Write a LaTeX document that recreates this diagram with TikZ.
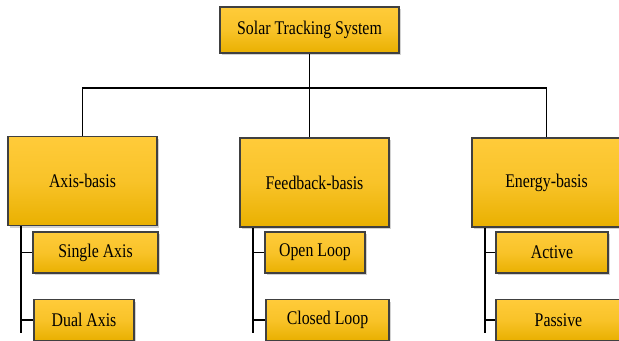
\documentclass[tikz,border=0pt]{standalone}
\usepackage{fontspec}
\setmainfont{Liberation Serif}[FakeStretch=0.82]
\usetikzlibrary{shadows}
\definecolor{goldtop}{HTML}{FFCB3A}
\definecolor{goldbot}{HTML}{E9B000}
\tikzset{
    box/.style = {draw = black!75, line width = 0.7pt, top color = goldtop,
        bottom color = goldbot, middle color = goldtop!70!goldbot,
        drop shadow = {opacity = 0.35, shadow xshift = 1.2pt, shadow yshift = -1.2pt},
        font = \fontsize{11}{13}\selectfont, inner sep = 0pt},
    topbox/.style = {box, minimum width = 3.58cm, minimum height = 0.92cm},
    basisbox/.style = {box, minimum width = 2.98cm, minimum height = 1.78cm},
    leafbox/.style = {box, minimum height = 0.82cm},
    link/.style = {draw, line width = 0.7pt}
}

\begin{document}
\begin{tikzpicture}
    \clip (0, 0) rectangle (12.38, -6.82);
    \fill[white] (0, 0) rectangle (12.38, -6.82);

    \node[topbox] (sts) at (6.19, -0.60) {Solar Tracking System};

    \node[basisbox] (axis) at (1.65, -3.62) {Axis-basis};
    \node[basisbox] (feedback) at (6.29, -3.65) {Feedback-basis};
    \node[basisbox] (energy) at (10.93, -3.65) {Energy-basis};

    \node[leafbox, minimum width = 2.50cm] (single) at (1.91, -5.05) {Single Axis};
    \node[leafbox, minimum width = 2.00cm] (dual) at (1.68, -6.40) {Dual Axis};
    \node[leafbox, minimum width = 2.00cm] (open) at (6.30, -5.05) {Open Loop};
    \node[leafbox, minimum width = 2.46cm] (closed) at (6.55, -6.40) {Closed Loop};
    \node[leafbox, minimum width = 2.24cm] (active) at (11.04, -5.05) {Active};
    \node[leafbox, minimum width = 2.50cm] (passive) at (11.17, -6.40) {Passive};

    % tree from the top box
    \coordinate (bus) at (6.19, -1.76);
    \path[link] (sts.south) -- (bus);
    \path[link] (axis.north) |- (bus) -| (energy.north);
    \path[link] (bus) -- (bus |- feedback.north);

    % rails under each basis
    \coordinate (axisend) at (0.42, -6.66);
    \coordinate (feedbackend) at (5.06, -6.66);
    \coordinate (energyend) at (9.70, -6.66);

    \path[link] (axisend |- axis.south) -- (axisend);
    \path[link] (axisend |- single.west) -- (single.west);
    \path[link] (axisend |- dual.west) -- (dual.west);

    \path[link] (feedbackend |- feedback.south) -- (feedbackend);
    \path[link] (feedbackend |- open.west) -- (open.west);
    \path[link] (feedbackend |- closed.west) -- (closed.west);

    \path[link] (energyend |- energy.south) -- (energyend);
    \path[link] (energyend |- active.west) -- (active.west);
    \path[link] (energyend |- passive.west) -- (passive.west);
\end{tikzpicture}
\end{document}
